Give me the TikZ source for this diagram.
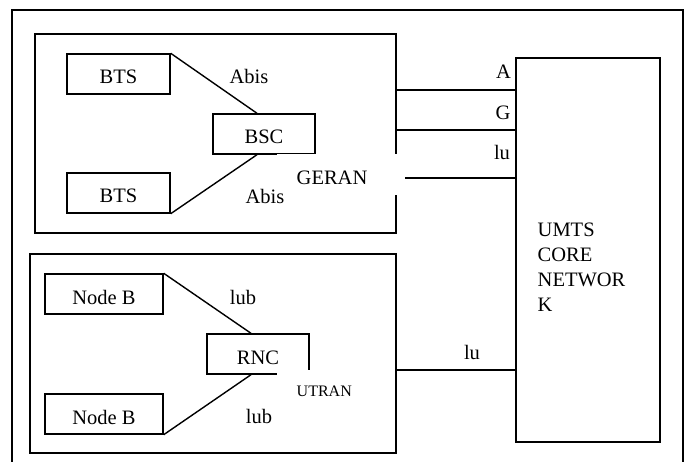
\documentclass[tikz,border=0pt]{standalone}
\usepackage{fontspec}
\setmainfont{Liberation Serif}
\begin{document}
\begin{tikzpicture}[x=1pt,y=-1pt,line width=1.4pt,
  every node/.style={font=\fontsize{20.5}{25}\selectfont, inner sep=0pt},
  unit/.style={draw, minimum height=40pt, text height=20pt, text depth=0pt},
  region/.style={draw},
  tag/.style={anchor=base},
  cutout/.style={fill=white, anchor=north west, align=left, inner xsep=20pt, inner ysep=0pt}]
\useasboundingbox (0,0) rectangle (690,462);
% outer frame, open at the bottom edge
\begin{scope}
  \clip (0,0) rectangle (690,462);
  \draw (12,480) -- (12,10) -- (683,10) -- (683,480);
\end{scope}

% access networks and core
\node[region, minimum width=361pt, minimum height=199pt] (geran) at (215.5,133.5) {};
\node[region, minimum width=366pt, minimum height=199pt] (utran) at (213,353.5) {};
\node[region, minimum width=144pt, minimum height=384pt] (core) at (588,250) {};

% network elements
\node[unit, minimum width=103pt] (bts1) at (118.5,74) {BTS};
\node[unit, minimum width=103pt] (bts2) at (118.5,193) {BTS};
\node[unit, minimum width=102pt] (bsc) at (264,134) {BSC};
\node[unit, minimum width=118pt] (nb1) at (104,294) {Node B};
\node[unit, minimum width=118pt] (nb2) at (104,414) {Node B};
\node[unit, minimum width=102pt] (rnc) at (258,354) {RNC};

% Abis / Iub links
\draw (bts1.north east) -- ([xshift=-7pt]bsc.north);
\draw (bts2.south east) -- ([xshift=-7pt]bsc.south);
\draw (nb1.north east) -- ([xshift=-7pt]rnc.north);
\draw (nb2.south east) -- ([xshift=-7pt]rnc.south);

% interfaces towards the core network
\coordinate (aOut) at (396,90);
\coordinate (gOut) at (396,130);
\coordinate (iuOut) at (404,178);
\coordinate (iuUOut) at (396,370);
\draw (aOut) -- (aOut -| core.west);
\draw (gOut) -- (gOut -| core.west);
\draw (iuOut) -- (iuOut -| core.west);
\draw (iuUOut) -- (iuUOut -| core.west);

% region names on white patches
\node[cutout, minimum height=40.7pt, text width=88pt, text height=20pt, text depth=0pt] (geranlbl) at (276,153.3) {GERAN};
\node[cutout, font=\fontsize{16}{18}\selectfont, minimum height=39pt, text width=60pt, text height=15pt, text depth=0pt] (utranlbl) at (276,369) {UTRAN};

% interface labels
\node[tag] (abis1) at (249,84) {Abis};
\node[tag] (abis2) at (265,204) {Abis};
\node[tag] (ifA) at (503.5,79) {A};
\node[tag] (ifG) at (503,120) {G};
\node[tag] (ifIu) at (502,160) {lu};
\node[tag] (iub1) at (243,304) {lub};
\node[tag] (iub2) at (259,423) {lub};
\node[tag] (ifIuU) at (472,359) {lu};

% core network name
\node[anchor=north west, align=left] (corelbl) at (537,222) {UMTS\\CORE\\NETWOR\\K};
\end{tikzpicture}
\end{document}
